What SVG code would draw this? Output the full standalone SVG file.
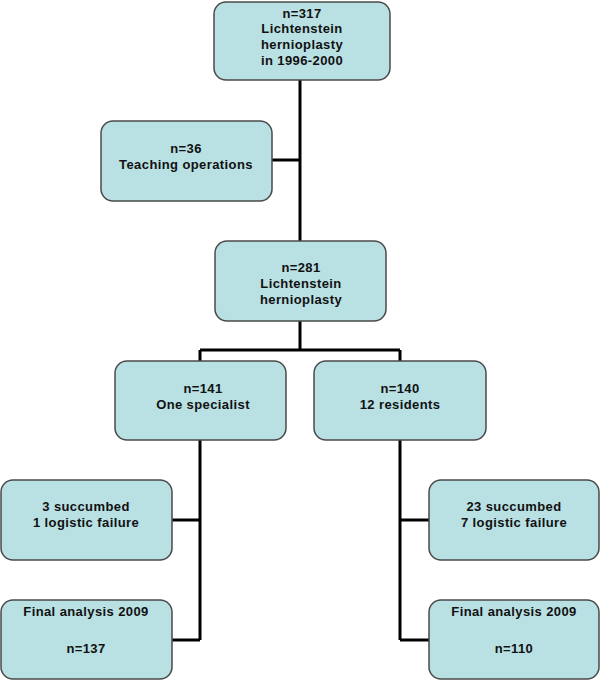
<svg xmlns="http://www.w3.org/2000/svg" width="600" height="680" viewBox="0 0 600 680">
<style>
.box{fill:#b9e0e3;stroke:#4a4a4a;stroke-width:1.5}
.t{font-family:"Liberation Sans",Arial,sans-serif;font-weight:bold;font-size:13px;letter-spacing:0.4px;fill:#111;text-anchor:middle}
.c{fill:none;stroke:#000;stroke-width:3}
</style>
<rect width="600" height="680" fill="#fff"/>
<g id="connectors">
<path class="c" d="M300 80 V241"/>
<path class="c" d="M272 160 H300"/>
<path class="c" d="M300 321 V350 M200 350 H400 M200 350 V361 M400 350 V361"/>
<path class="c" d="M200 440 V640 M172 520 H200 M172 640 H200"/>
<path class="c" d="M400 440 V640 M400 520 H429 M400 640 H429"/>
</g>
<g id="n317">
<rect class="box" x="214" y="2" width="176" height="78" rx="12"/>
<text class="t" x="302" y="18">n=317</text>
<text class="t" x="302" y="33">Lichtenstein</text>
<text class="t" x="302" y="49">hernioplasty</text>
<text class="t" x="302" y="65">in 1996-2000</text>
</g>
<g id="n36">
<rect class="box" x="101" y="121" width="171" height="80" rx="12"/>
<text class="t" x="186" y="153">n=36</text>
<text class="t" x="186" y="169">Teaching operations</text>
</g>
<g id="n281">
<rect class="box" x="215" y="241" width="171" height="80" rx="12"/>
<text class="t" x="301" y="272">n=281</text>
<text class="t" x="301" y="288">Lichtenstein</text>
<text class="t" x="301" y="304">hernioplasty</text>
</g>
<g id="n141">
<rect class="box" x="115" y="361" width="171" height="79" rx="12"/>
<text class="t" x="203" y="393">n=141</text>
<text class="t" x="203" y="409">One specialist</text>
</g>
<g id="n140">
<rect class="box" x="314" y="361" width="172" height="79" rx="12"/>
<text class="t" x="400" y="393">n=140</text>
<text class="t" x="400" y="409">12 residents</text>
</g>
<g id="lossLeft">
<rect class="box" x="1" y="480" width="171" height="80" rx="12"/>
<text class="t" x="86" y="511">3 succumbed</text>
<text class="t" x="86" y="527">1 logistic failure</text>
</g>
<g id="lossRight">
<rect class="box" x="429" y="480" width="170" height="80" rx="12"/>
<text class="t" x="514" y="511">23 succumbed</text>
<text class="t" x="514" y="527">7 logistic failure</text>
</g>
<g id="finalLeft">
<rect class="box" x="1" y="600" width="171" height="79" rx="12"/>
<text class="t" x="86" y="616">Final analysis 2009</text>
<text class="t" x="86" y="653">n=137</text>
</g>
<g id="finalRight">
<rect class="box" x="429" y="600" width="170" height="79" rx="12"/>
<text class="t" x="514" y="616">Final analysis 2009</text>
<text class="t" x="514" y="653">n=110</text>
</g>
</svg>
